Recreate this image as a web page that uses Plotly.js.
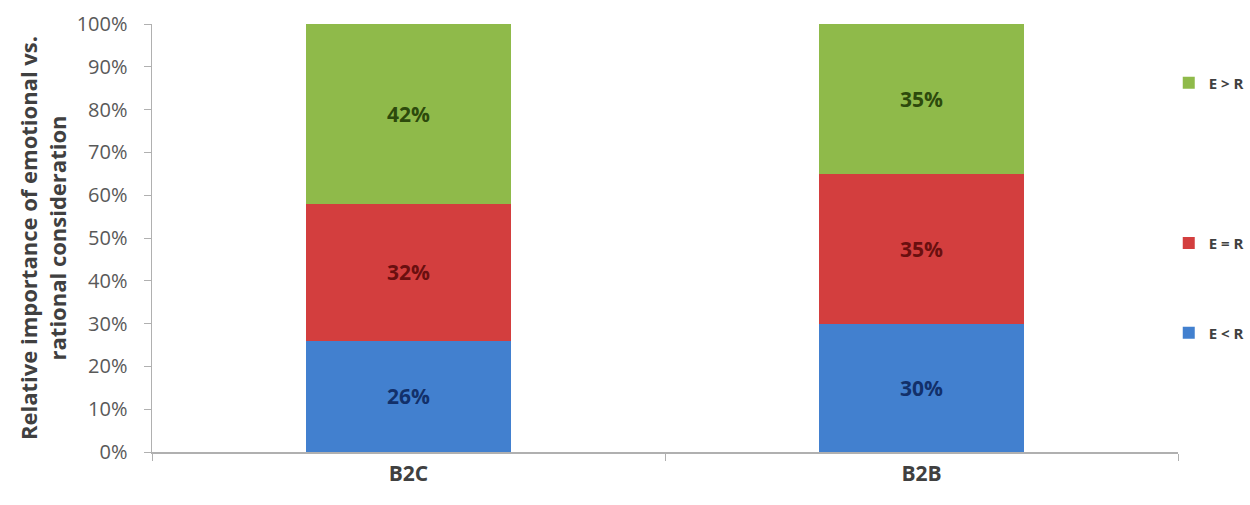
<!DOCTYPE html>
<html>
<head>
<meta charset="utf-8">
<script src="https://cdn.plot.ly/plotly-3.0.1.min.js"></script>
<style>body{margin:0;padding:0;background:#fff;} #chart{width:1250px;height:505px;}</style>
</head>
<body>
<div id="chart"></div>
<script>
const categories = ["B2C", "B2B"];
const seriesNames = ["E < R", "E = R", "E > R"];
const valuesELessR = [26, 30];
const valuesEEqualR = [32, 35];
const valuesEGreaterR = [42, 35];
const yTickValues = [0, 10, 20, 30, 40, 50, 60, 70, 80, 90, 100];
const yTickLabels = ["0%", "10%", "20%", "30%", "40%", "50%", "60%", "70%", "80%", "90%", "100%"];

const fills = ["#4280cf", "#d33e3e", "#8fba4a"];
const textColors = ["#12306a", "#6a0f0f", "#2d4a0c"];
const legendIds = ["legend3", "legend2", "legend"];
const allValues = [valuesELessR, valuesEEqualR, valuesEGreaterR];

const traces = allValues.map((vals, i) => ({
  type: "bar",
  name: seriesNames[i],
  x: categories,
  y: vals,
  marker: {color: fills[i], line: {width: 0}},
  text: vals.map(v => v + "%"),
  texttemplate: "%{text}",
  textposition: "inside",
  insidetextanchor: "middle",
  textfont: {family: "Open Sans, sans-serif", size: 21, color: textColors[i], weight: "bold"},
  legend: legendIds[i],
  hoverinfo: "skip"
}));

const legendBase = {
  xref: "container", x: 0.935, xanchor: "left", yanchor: "middle",
  font: {family: "Open Sans, sans-serif", size: 15, color: "#404040", weight: "bold"},
  bgcolor: "rgba(0,0,0,0)", itemwidth: 30, tracegroupgap: 0
};

const layout = {
  width: 1250, height: 505,
  margin: {l: 152, r: 72, t: 24, b: 53, autoexpand: false},
  paper_bgcolor: "#ffffff", plot_bgcolor: "#ffffff",
  barmode: "stack",
  bargap: 0.6,
  showlegend: true,
  legend: Object.assign({}, legendBase, {y: 0.862}),
  legend2: Object.assign({}, legendBase, {y: 0.488}),
  legend3: Object.assign({}, legendBase, {y: 0.278}),
  xaxis: {
    type: "category",
    showline: true, linecolor: "#b0b0b0", linewidth: 1.5,
    ticks: "outside", tickson: "boundaries", ticklen: 7, tickcolor: "#b0b0b0",
    tickfont: {family: "Open Sans, sans-serif", size: 21, color: "#404040", weight: "bold"},
    ticklabelstandoff: 2,
    showgrid: false, zeroline: false
  },
  yaxis: {
    range: [0, 100],
    tickvals: yTickValues, ticktext: yTickLabels,
    showline: true, linecolor: "#b0b0b0", linewidth: 1.5,
    ticks: "outside", ticklen: 7, tickcolor: "#b0b0b0",
    tickfont: {family: "Open Sans, sans-serif", size: 20, color: "#595959"},
    ticklabelstandoff: 12,
    showgrid: false, zeroline: false,
    title: {
      text: "Relative importance of emotional vs.<br>rational consideration",
      font: {family: "Open Sans, sans-serif", size: 22, color: "#404040", weight: "bold"},
      standoff: 4
    }
  }
};

Plotly.newPlot("chart", traces, layout, {displayModeBar: false, staticPlot: true});
</script>
</body>
</html>
